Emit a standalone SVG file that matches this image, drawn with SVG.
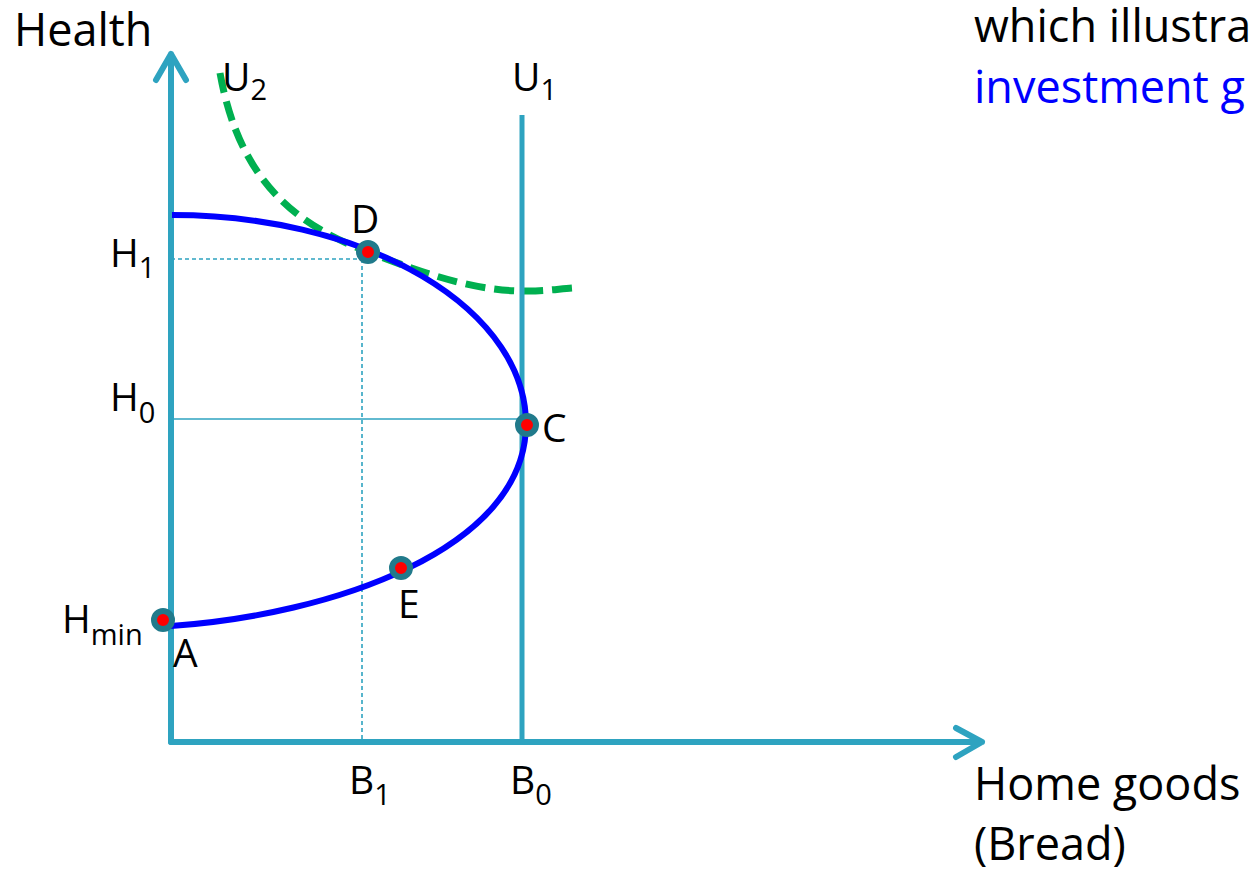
<svg xmlns="http://www.w3.org/2000/svg" width="1249" height="871" viewBox="0 0 1249 871">
<style>
text{font-family:"Open Sans","Liberation Sans",sans-serif;fill:#000}
.big{font-size:45px}
.lbl{font-size:39px}
.sub{font-size:29px}
.axis{stroke:#2ea3c0;stroke-width:6;fill:none;stroke-linecap:round;stroke-linejoin:round}
.guide{stroke:#2ea3c0;stroke-width:1.6;fill:none}
.dash{stroke-dasharray:4 3}
.pt circle{fill:#ff0000;stroke:#217a8b;stroke-width:6}
</style>
<rect width="1249" height="871" fill="#fff"/>
<g id="connectors">
<line class="guide" x1="171" y1="419" x2="521" y2="419"/>
<line class="guide dash" x1="171" y1="259" x2="362" y2="259"/>
<line class="guide dash" x1="362" y1="259" x2="362" y2="742"/>
<path d="M220,73 C240,185 300,226 368,252 C430,276 480,292 528,291 C545,291 558,289 572,288" fill="none" stroke="#00b050" stroke-width="7" stroke-dasharray="20 9"/>
<line x1="522" y1="115" x2="522" y2="742" stroke="#2ea3c0" stroke-width="5"/>
<path class="axis" d="M171,742 L171,54 M156,80 L171,54 L186,80"/>
<path class="axis" d="M171,742 L982,742 M956,728 L982,742 L956,757"/>
<path d="M172,215 A354 209 0 0 1 526,424 C526,550 330,615 171,626" fill="none" stroke="#0000ff" stroke-width="6"/>
</g>
<g id="D" class="pt"><circle cx="368" cy="252" r="9"/><text class="lbl" x="351" y="233">D</text></g>
<g id="C" class="pt"><circle cx="527" cy="425" r="9"/><text class="lbl" x="542" y="442">C</text></g>
<g id="E" class="pt"><circle cx="401" cy="568" r="9"/><text class="lbl" x="398" y="618">E</text></g>
<g id="A" class="pt"><circle cx="163" cy="620" r="9"/><text class="lbl" x="173" y="667">A</text></g>
<g id="labels">
<text class="big" x="14" y="46">Health</text>
<text class="lbl" x="222" y="91">U<tspan class="sub" dy="9">2</tspan></text>
<text class="lbl" x="512" y="91">U<tspan class="sub" dy="9">1</tspan></text>
<text class="lbl" x="110" y="267">H<tspan class="sub" dy="11">1</tspan></text>
<text class="lbl" x="110" y="411">H<tspan class="sub" dy="12">0</tspan></text>
<text class="lbl" x="62" y="633">H<tspan class="sub" dy="12">min</tspan></text>
<text class="lbl" x="349" y="794">B<tspan class="sub" dy="11">1</tspan></text>
<text class="lbl" x="510" y="794">B<tspan class="sub" dy="11">0</tspan></text>
<text class="big" x="974" y="800">Home goods</text>
<text class="big" x="974" y="860">(Bread)</text>
<text class="big" x="974" y="42">which illustra</text>
<text class="big" x="974" y="103" style="fill:#0000ff">investment g</text>
</g>
</svg>
